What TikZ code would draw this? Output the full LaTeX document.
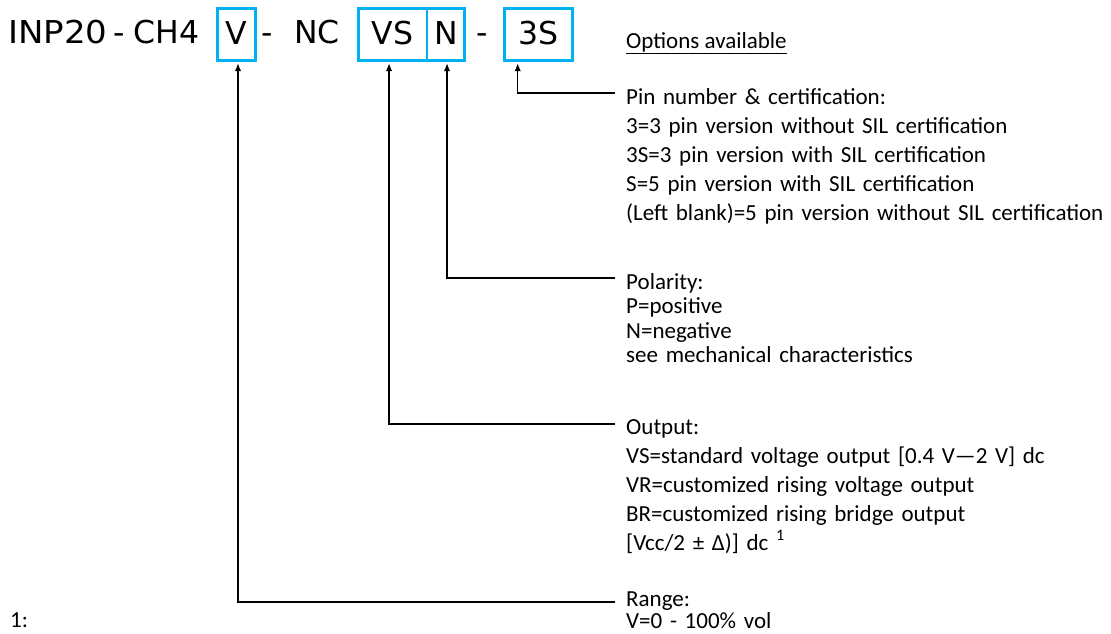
\documentclass[tikz,border=0pt]{standalone}
\usepackage{fontspec}
\setmainfont{Carlito}
\newfontfamily\hdrfont{DejaVu Sans}
\newfontfamily\hdrwide[FakeStretch=1.08]{DejaVu Sans}
\usetikzlibrary{arrows.meta,calc}
\definecolor{boxblue}{RGB}{0,176,240}
\begin{document}
\begin{tikzpicture}[x=1pt,y=-1pt,
  hdrtxt/.style={font=\hdrfont\fontsize{31.5}{36}\selectfont, inner sep=0pt, text height=23pt, text depth=4pt},
  hdrtok/.style={hdrtxt, anchor=base west},
  codebox/.style={hdrtxt, draw=boxblue, line width=2.6pt, minimum height=52.4pt},
  desc/.style={font=\fontsize{23}{29}\selectfont, text width=490pt, align=left, anchor=base west, inner xsep=11pt, inner ysep=0pt},
  note/.style={font=\fontsize{23}{29}\selectfont, inner sep=0pt, anchor=base west},
  conn/.style={line width=1.3pt, shorten >=1.2pt, -{Latex[length=8pt,width=6.5pt]}}
]
\useasboundingbox (0,0) rectangle (1111,633);

% header tokens
\node[hdrtok, font=\hdrwide\fontsize{31.5}{36}\selectfont] (t1) at (8,43.5) {INP20};
\node[hdrtok] (t2) at (113.5,43.5) {-};
\node[hdrtok] (t3) at (133.3,43.5) {CH4};
\node[codebox, minimum width=38.4pt] (bV) at (236.5,34.5) {V};
\node[hdrtok] (t4) at (261,43.5) {-};
\node[hdrtok] (t5) at (294,43.5) {NC};
\node[codebox, minimum width=68.7pt] (bVS) at (392.65,34.5) {VS\hspace{10pt}};
\node[codebox, minimum width=37.7pt] (bN) at (445.85,34.5) {N};
\node[hdrtok] (t6) at (476,43.5) {-};
\node[codebox, minimum width=68.4pt] (b3S) at (538.5,34.5) {3S\hspace{14pt}};

% options title
\node[note] (opt) at (626,48) {\underline{Options available}};

% descriptions
\node[desc] (pin) at (615,104) {Pin number \& certification:\\
3=3 pin version without SIL certification\\
3S=3 pin version with SIL certification\\
S=5 pin version with SIL certification\\
(Left blank)=5 pin version without SIL certification};

\node[desc, font=\fontsize{23}{24.5}\selectfont] (pol) at (615,289) {Polarity:\\
P=positive\\
N=negative\\
see mechanical characteristics};

\node[desc] (out) at (615,434) {Output:\\
VS=standard voltage output {[}0.4 V—2 V] dc\\
VR=customized rising voltage output\\
BR=customized rising bridge output\\
{[}Vcc/2 ± Δ)] dc \textsuperscript{1}};

\node[desc, font=\fontsize{23}{22.5}\selectfont] (rng) at (615,606) {Range:\\
V=0 - 100\% vol};

\node[note] (fn) at (10,627) {1:};

% connectors
\draw[conn] ([yshift=11pt]pin.base west) -| ($(b3S.south west)+(14.7,0)$);
\draw[conn] ([yshift=11pt]pol.base west) -| ($(bN.south)+(1.2,0)$);
\draw[conn] ([yshift=10pt]out.base west) -| ($(bVS.south)+(-3.6,0)$);
\draw[conn] ([yshift=4pt]rng.base west) -| ($(bV.south)+(1.5,0)$);
\end{tikzpicture}
\end{document}
